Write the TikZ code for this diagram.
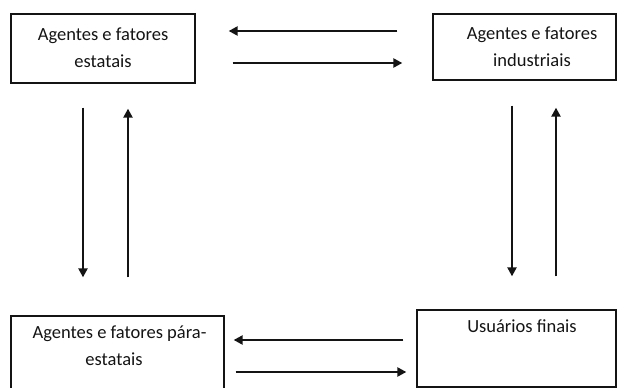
\documentclass[tikz,border=0pt]{standalone}
\usepackage{fontspec}
\setmainfont{Carlito}
\usetikzlibrary{arrows.meta}
\definecolor{ink}{HTML}{141414}
\begin{document}
\begin{tikzpicture}[x=1pt,y=-1pt,
  box/.style={draw=ink,line width=1.3pt,inner sep=0pt,rectangle},
  lbl/.style={anchor=base,inner sep=0pt,text=ink,font=\fontsize{18.5}{27}\selectfont},
  arr/.style={draw=ink,line width=2.2pt,-{Triangle[length=9pt,width=9pt]}}]
\clip (0,0) rectangle (619,388);
\useasboundingbox (0,0) rectangle (619,388);

% boxes
\node[box,minimum width=184pt,minimum height=69pt] (e) at (103,48.5) {};
\node[box,minimum width=183pt,minimum height=66pt] (i) at (524.5,47) {};
\node[box,minimum width=213pt,minimum height=79pt] (p) at (117.5,355.5) {};
\node[box,minimum width=199pt,minimum height=77pt] (u) at (516.5,348.5) {};

% labels
\node[lbl] (e1) at (103,40) {Agentes e fatores};
\node[lbl] (e2) at (103,67) {estatais};
\node[lbl] (i1) at (532,39) {Agentes e fatores};
\node[lbl] (i2) at (532,66) {industriais};
\node[lbl] (p1) at (119.5,338) {Agentes e fatores pára-};
\node[lbl] (p2) at (114,365) {estatais};
\node[lbl] (u1) at (522,332) {Usuários finais};

% horizontal exchanges
\draw[arr,shorten <=35pt,shorten >=33pt] (i.west |- 0,31) -- (e.east |- 0,31);
\draw[arr,shorten <=37pt,shorten >=30pt] (e.east |- 0,63) -- (i.west |- 0,63);
\draw[arr,shorten <=13pt,shorten >=9pt] (u.west |- 0,340) -- (p.east |- 0,340);
\draw[arr,shorten <=11pt,shorten >=10pt] (p.east |- 0,372) -- (u.west |- 0,372);

% vertical exchanges
\draw[arr,shorten <=24pt,shorten >=38pt] (e.south -| 83,0) -- (p.north -| 83,0);
\draw[arr,shorten <=38pt,shorten >=25pt] (p.north -| 128,0) -- (e.south -| 128,0);
\draw[arr,shorten <=25pt,shorten >=33pt] (i.south -| 512,0) -- (u.north -| 512,0);
\draw[arr,shorten <=33pt,shorten >=27pt] (u.north -| 556,0) -- (i.south -| 556,0);
\end{tikzpicture}
\end{document}
